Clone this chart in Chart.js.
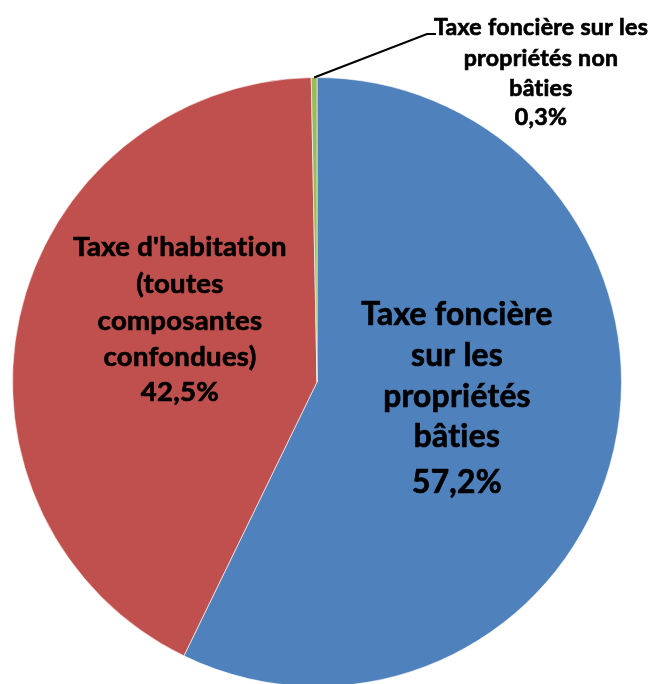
<!DOCTYPE html>
<html>
<head>
<meta charset="utf-8">
<script src="https://cdn.jsdelivr.net/npm/chart.js@4.4.1/dist/chart.umd.min.js"></script>
<style>
  html, body { margin: 0; padding: 0; background: #fff; overflow: hidden; }
  #wrap { position: relative; width: 650px; height: 690px; }
</style>
</head>
<body>
<div id="wrap"><canvas id="myChart"></canvas></div>
<script>
// data
let categories = [
  'Taxe foncière sur les propriétés bâties',
  "Taxe d'habitation (toutes composantes confondues)",
  'Taxe foncière sur les propriétés non bâties'
];
let shares = [57.2, 42.5, 0.3];
let percentLabels = ['57,2%', '42,5%', '0,3%'];
let labelLines = [
  ['Taxe foncière', 'sur les', 'propriétés', 'bâties'],
  ["Taxe d'habitation", '(toutes', 'composantes', 'confondues)'],
  ['Taxe foncière sur les', 'propriétés non', 'bâties']
];
let colors = ['#4F81BD', '#C0504D', '#9BBB59'];

// where each label sits (centre x, baselines, width of first line)
const labelLayout = [
  { x: 457, fit: 189, y: [325, 366, 407, 447, 493] },
  { x: 180, fit: 210, y: [256, 293, 330, 366, 401] },
  { x: 541, fit: 209, y: [35, 66, 96, 125], leader: [[427, 34], [436, 34]] }
];
const fontFamily = 'Lato, "Open Sans", sans-serif';

const pieLabels = {
  id: 'pieLabels',
  afterDatasetsDraw(chart) {
    const ctx = chart.ctx;
    const arcs = chart.getDatasetMeta(0).data;
    ctx.save();
    ctx.fillStyle = '#000';
    ctx.strokeStyle = '#000';
    ctx.textAlign = 'center';
    ctx.textBaseline = 'alphabetic';
    // small spacing also keeps Lato from joining "ti"
    ctx.letterSpacing = '0.3px';
    labelLayout.forEach(function (lay, i) {
      const lines = labelLines[i].concat([percentLabels[i]]);
      ctx.font = 'bold 100px ' + fontFamily;
      const size = 100 * lay.fit / ctx.measureText(lines[0]).width;
      ctx.font = 'bold ' + size.toFixed(1) + 'px ' + fontFamily;
      ctx.lineWidth = 0.7;
      lines.forEach(function (t, k) {
        ctx.fillText(t, lay.x, lay.y[k]);
        ctx.strokeText(t, lay.x, lay.y[k]);
      });
      if (lay.leader) {
        const a = arcs[i];
        const mid = (a.startAngle + a.endAngle) / 2;
        ctx.lineWidth = 2;
        ctx.beginPath();
        ctx.moveTo(a.x + Math.cos(mid) * a.outerRadius, a.y + Math.sin(mid) * a.outerRadius);
        lay.leader.forEach(function (p) { ctx.lineTo(p[0], p[1]); });
        ctx.stroke();
      }
    });
    ctx.restore();
  }
};

const ctx = document.getElementById('myChart');

new Chart(ctx, {
  type: 'pie',
  data: {
    labels: categories,
    datasets: [{
      data: shares,
      backgroundColor: colors,
      borderColor: 'rgba(255,255,255,0.6)',
      borderWidth: 1
    }]
  },
  options: {
    responsive: true,
    maintainAspectRatio: false,
    animation: false,
    layout: { padding: { left: 12, right: 28, top: 77, bottom: 3 } },
    plugins: {
      legend: { display: false },
      tooltip: { enabled: false }
    }
  },
  plugins: [pieLabels]
});
</script>
</body>
</html>
